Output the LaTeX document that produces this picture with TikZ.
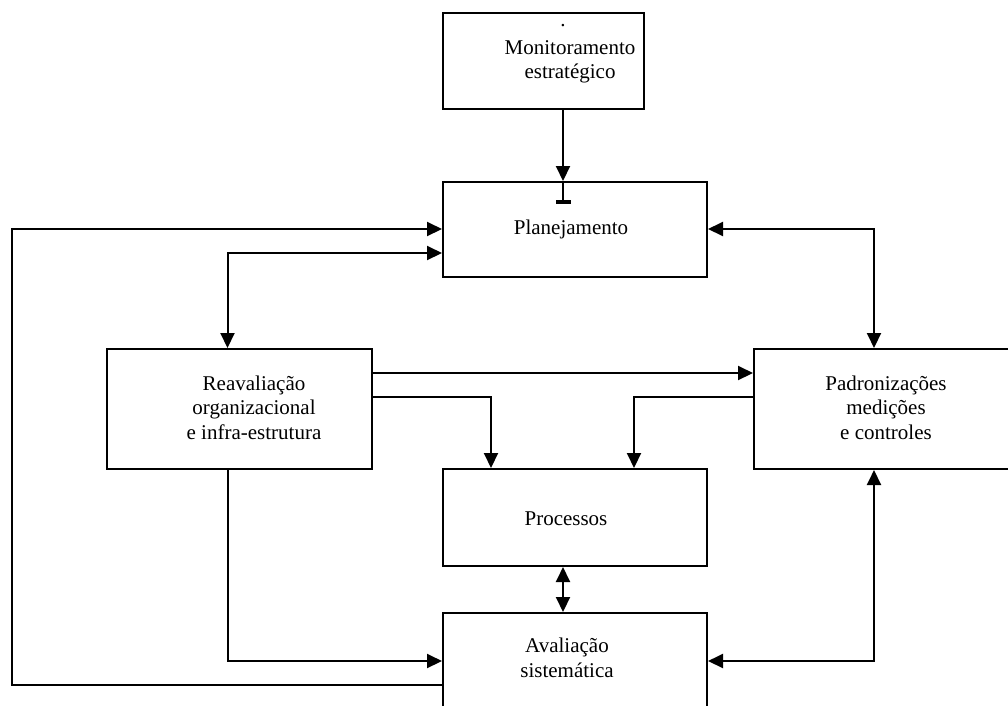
\documentclass[tikz,border=0pt]{standalone}
\usepackage{fontspec}
\setmainfont{Liberation Serif}
\usetikzlibrary{arrows.meta}

\begin{document}
\begin{tikzpicture}[x=1pt,y=-1pt,line width=2pt,
  box/.style={draw,rectangle,inner sep=0pt},
  txt/.style={align=center,inner sep=0pt,font=\fontsize{21}{24.5}\selectfont},
  arr/.style={-{Triangle[length=15pt,width=14pt]}},
  darr/.style={{Triangle[length=15pt,width=14pt]}-{Triangle[length=15pt,width=14pt]}}]
\useasboundingbox (0,0) rectangle (1008,705);
\clip (0,0) rectangle (1008,705);
% boxes
\node[box,minimum width=201pt,minimum height=96pt] (mon) at (543.5,61) {};
\node[box,minimum width=264pt,minimum height=95pt] (plan) at (575,229.5) {};
\node[box,minimum width=265pt,minimum height=120pt] (reav) at (239.5,409) {};
\node[box,minimum width=266pt,minimum height=120pt] (pad) at (887,409) {};
\node[box,minimum width=264pt,minimum height=97pt] (proc) at (575,517.5) {};
\node[box,minimum width=264pt,minimum height=100pt] (aval) at (575,663) {};
% texts
\node[txt,anchor=base] (dot) at (563,26.5) {.};
\node[txt] (mon-t) at (570,62) {Monitoramento\\estratégico};
\node[txt] (plan-t) at (571,229) {Planejamento};
\node[txt] (reav-t) at (254,407.5) {Reavaliação\\organizacional\\e infra-estrutura};
\node[txt] (pad-t) at (886,407.5) {Padronizações\\medições\\e controles};
\node[txt] (proc-t) at (566,518.5) {Processos};
\node[txt] (aval-t) at (567,658) {Avaliação\\sistemática};
% helper points
\coordinate (mid) at (563,0);
\coordinate (lp1) at (12,229);
\coordinate (lp2) at (12,685);
\coordinate (rp) at (227.5,253);
\coordinate (pp) at (874,229);
\coordinate (h1) at (0,373);
\coordinate (rq) at (491,397);
\coordinate (pq) at (634,397);
\coordinate (ra) at (227.5,661);
\coordinate (pa) at (874,661);
% connectors
\draw[arr] (mon.south -| mid) -- (plan.north -| mid);
\draw[-{Rectangle[length=4pt,width=15pt]}] (plan.north -| mid) -- ++(0,23);
\draw[arr] (aval.west |- lp2) -- (lp2) -- (lp1) -- (plan.west |- lp1);
\draw[darr] (reav.north -| rp) -- (rp) -- (plan.west |- rp);
\draw[darr] (plan.east |- pp) -- (pp) -- (pad.north -| pp);
\draw[arr] (reav.east |- h1) -- (pad.west |- h1);
\draw[arr] (reav.east |- rq) -- (rq) -- (proc.north -| rq);
\draw[arr] (pad.west |- pq) -- (pq) -- (proc.north -| pq);
\draw[darr] (proc.south -| mid) -- (aval.north -| mid);
\draw[arr] (reav.south -| ra) -- (ra) -- (aval.west |- ra);
\draw[darr] (aval.east |- pa) -- (pa) -- (pad.south -| pa);
\end{tikzpicture}
\end{document}
